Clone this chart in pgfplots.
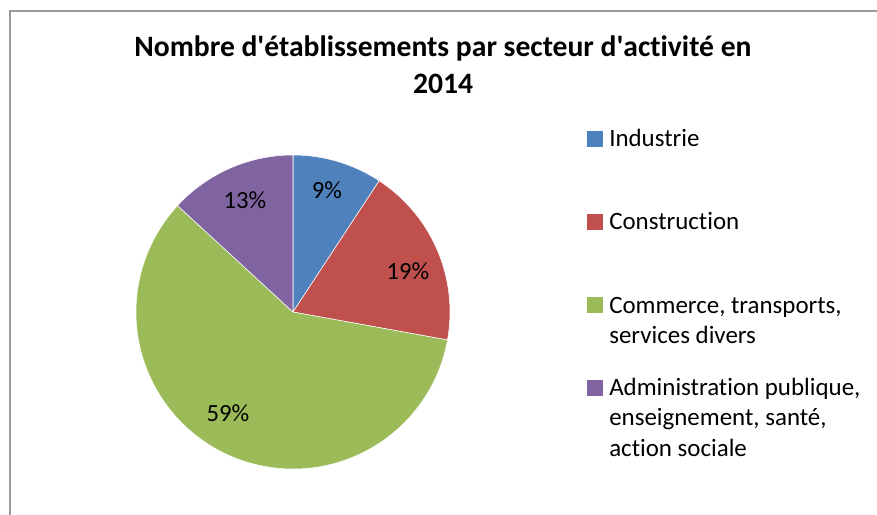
\documentclass[border=0pt]{standalone}
\usepackage{pgfplots}
\pgfplotsset{compat=1.18}
\usepackage{fontspec}
\setmainfont{Carlito}[Ligatures=NoCommon, RawFeature={-liga}]
\definecolor{cInd}{HTML}{4F81BD}
\definecolor{cCon}{HTML}{C0504D}
\definecolor{cCom}{HTML}{9BBB59}
\definecolor{cAdm}{HTML}{8064A2}
\definecolor{cFrame}{HTML}{9A9A9A}
% slice: start percent, end percent, colour
\newcommand{\slice}[3]{%
  \fill[#3, draw=white, line width=0.4pt]
    (axis cs:0,0) -- (axis cs:{157*cos(90-3.6*#1)},{157*sin(90-3.6*#1)})
    arc[start angle={90-3.6*#1}, end angle={90-3.6*#2}, radius=117.75pt] -- cycle;}
\begin{document}
\begin{tikzpicture}[x=0.75pt,y=0.75pt]
\path[use as bounding box] (0,0) rectangle (877,514);
\fill[white] (0,0) rectangle (877,514);
\draw[cFrame, line width=1.2pt] (10,-5) -- (10,503) -- (882,503);
\begin{axis}[
  at={(293,202)}, anchor=center,
  x=0.75pt, y=0.75pt,
  xmin=-160, xmax=160, ymin=-160, ymax=160,
  hide axis, clip=false,
]
% values (percent): Industrie 9.25, Construction 18.6, Commerce 59.0, Administration 13.15
\slice{0}{9.25}{cInd}
\slice{9.25}{27.85}{cCon}
\slice{27.85}{86.85}{cCom}
\slice{86.85}{100}{cAdm}
\node[font=\fontsize{18.5pt}{22pt}\selectfont] at (axis cs:34,122) {9\%};
\node[font=\fontsize{18.5pt}{22pt}\selectfont] at (axis cs:115,41) {19\%};
\node[font=\fontsize{18.5pt}{22pt}\selectfont] at (axis cs:-65,-101) {59\%};
\node[font=\fontsize{18.5pt}{22pt}\selectfont] at (axis cs:-48,112) {13\%};
\end{axis}
% title
\node[font=\fontsize{22.2pt}{26pt}\selectfont\bfseries, anchor=base] at (443,457) {Nombre d\textquotesingle établissements par secteur d\textquotesingle activité en};
\node[font=\fontsize{22.2pt}{26pt}\selectfont\bfseries, anchor=base] at (443,420) {2014};
% legend
\fill[cInd] (587,367) rectangle (603,383);
\fill[cCon] (587,284) rectangle (603,300);
\fill[cCom] (587,201) rectangle (603,217);
\fill[cAdm] (587,118) rectangle (603,134);
\begin{scope}[every node/.style={font=\fontsize{18.7pt}{22pt}\selectfont, anchor=base west, inner sep=0pt}]
\node at (609,367) {Industrie};
\node at (609,284) {Construction};
\node at (609,200) {Commerce, transports,};
\node at (609,170) {services divers};
\node at (609,118) {Administration publique,};
\node at (609,89) {enseignement, santé,};
\node at (609,58) {action sociale};
\end{scope}
\end{tikzpicture}
\end{document}
